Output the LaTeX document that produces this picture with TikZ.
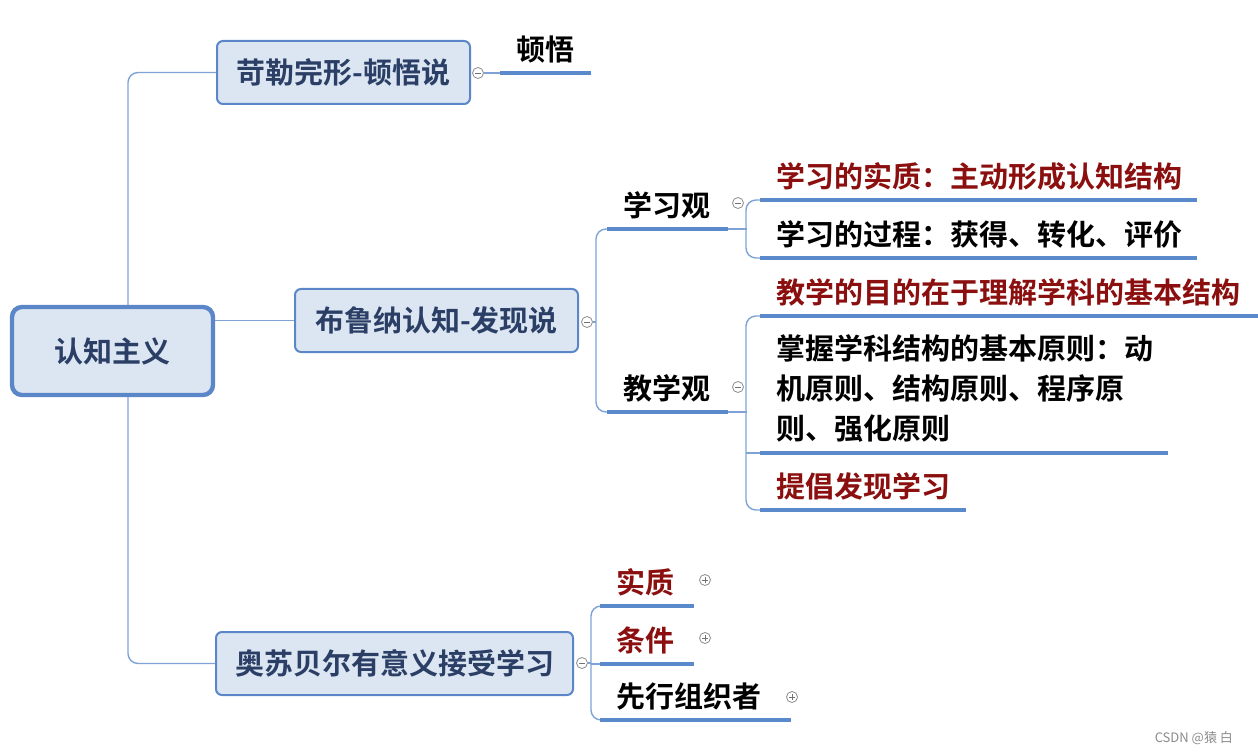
\documentclass[tikz,border=0pt]{standalone}
\usepackage{fontspec}
\newfontfamily\cjk{Noto Sans CJK SC}[BoldFont={Noto Sans CJK SC Bold}]
\usepackage{xcolor}
\usetikzlibrary{positioning}
\definecolor{boxfill}{HTML}{DCE6F2}
\definecolor{boxline}{HTML}{5B87C9}
\definecolor{boxtext}{HTML}{2B3F66}
\definecolor{linkblue}{HTML}{7FA3D6}
\definecolor{ulblue}{HTML}{5A8ACB}
\definecolor{keyred}{HTML}{8B0F0F}

\begin{document}
\begin{tikzpicture}[
  x=0.5pt, y=-0.5pt,
  font=\cjk\bfseries\fontsize{14.5}{20}\selectfont,
  topic/.style={draw=boxline, line width=1pt, rounded corners=3pt, fill=boxfill,
                text=boxtext, minimum height=31.5pt, inner sep=0pt},
  root/.style={topic, line width=2.2pt, rounded corners=5pt,
               minimum width=100.5pt, minimum height=44pt},
  leaf/.style={anchor=south west, align=left, inner xsep=8pt, inner ysep=5pt},
  word/.style={leaf, text depth=1pt},
  key/.style={word, text=keyred},
  link/.style={draw=linkblue, line width=0.7pt, rounded corners=5pt},
  uline/.style={draw=ulblue, line width=1.6pt},
  fold/.style={circle, draw=black!45, fill=white, line width=0.4pt,
               minimum size=5.5pt, inner sep=0pt,
               path picture={\draw[black!55, line width=0.4pt]
                 ([xshift=-1.5pt]path picture bounding box.center) --
                 ([xshift=1.5pt]path picture bounding box.center);}},
  unfold/.style={fold,
               path picture={\draw[black!55, line width=0.4pt]
                 ([xshift=-1.5pt]path picture bounding box.center) --
                 ([xshift=1.5pt]path picture bounding box.center)
                 ([yshift=-1.5pt]path picture bounding box.center) --
                 ([yshift=1.5pt]path picture bounding box.center);}}
]
\useasboundingbox[fill=white] (0,0) rectangle (1258,754);
% --- central topic and main branches ---
\node[root] (rz) at (112.5,351) {认知主义};
\node[topic, minimum width=126.5pt] (kl) at (343.5,72.5) {苛勒完形-顿悟说};
\node[topic, minimum width=141.5pt] (bln) at (436.5,320.5) {布鲁纳认知-发现说};
\node[topic, minimum width=178.5pt] (asb) at (394.5,663.5) {奥苏贝尔有意义接受学习};
% --- fold markers ---
\node[fold] (klf) at (478,73) {};
\node[fold] (blnf) at (587,322) {};
\node[fold] (xxgf) at (738,203) {};
\node[fold] (jxgf) at (738,387) {};
\node[fold] (asbf) at (582,663) {};
% --- kohler ---
\node[word, text width=29pt] (dw) at (500,73) {顿悟};
% --- bruner ---
\node[word, text width=44pt] (xxg) at (607,229) {学习观};
\node[word, text width=44pt] (jxg) at (607,412) {教学观};
\node[key, text width=202pt] (xx1) at (760,200) {学习的实质：主动形成认知结构};
\node[word, text width=202pt] (xx2) at (760,258) {学习的过程：获得、转化、评价};
\node[key, text width=238.5pt] (jx1) at (760,316) {教学的目的在于理解学科的基本结构};
\node[leaf, text width=187.5pt] (jx2) at (760,453)
  {掌握学科结构的基本原则：动\\机原则、结构原则、程序原\\则、强化原则};
\node[key, text width=86.5pt] (jx3) at (760,510) {提倡发现学习};
% --- ausubel ---
\node[key, text width=30.5pt] (sz) at (600,606) {实质};
\node[key, text width=30.5pt] (tj) at (600,664) {条件};
\node[word, text width=79pt] (xx) at (600,720) {先行组织者};
\node[unfold] (szf) at (705,580) {};
\node[unfold] (tjf) at (705,638) {};
\node[unfold] (xxf) at (792,697) {};
% --- watermark ---
\node[font=\cjk\fontsize{6.5}{8}\selectfont, text=black!45, anchor=east] (wm)
  at (1240,738) {CSDN @猿 白};
% --- connectors ---
\draw[link] ([xshift=7.75pt]rz.north) |- (kl.west);
\draw[link] (rz.east |- bln.west) -- (bln.west);
\draw[link] ([xshift=7.75pt]rz.south) |- (asb.west);
\draw[link] (klf) -- (dw.south west);
\draw[link] (blnf) -- ++(9,0);
\draw[link] (xxg.south west) -- ++(-11,0) |- (jxg.south west);
\draw[link] (xxg.south east) -- ++(19,0);
\draw[link] (xx1.south west) -- ++(-14,0) |- (xx2.south west);
\draw[link] (jxg.south east) -- ++(19,0);
\draw[link] (jx1.south west) -- ++(-14,0) |- (jx3.south west);
\draw[link] ([xshift=-7pt]jx2.south west) -- (jx2.south west);
\draw[link] (asbf) -- ++(9,0);
\draw[link] (sz.south west) -- ++(-9,0) |- (xx.south west);
\draw[link] ([xshift=-4.5pt]tj.south west) -- (tj.south west);
% --- underlines ---
\foreach \n in {dw,xxg,jxg,xx1,xx2,jx1,jx2,jx3,sz,tj,xx}
  \draw[uline] (\n.south west) -- (\n.south east);
\end{tikzpicture}
\end{document}
